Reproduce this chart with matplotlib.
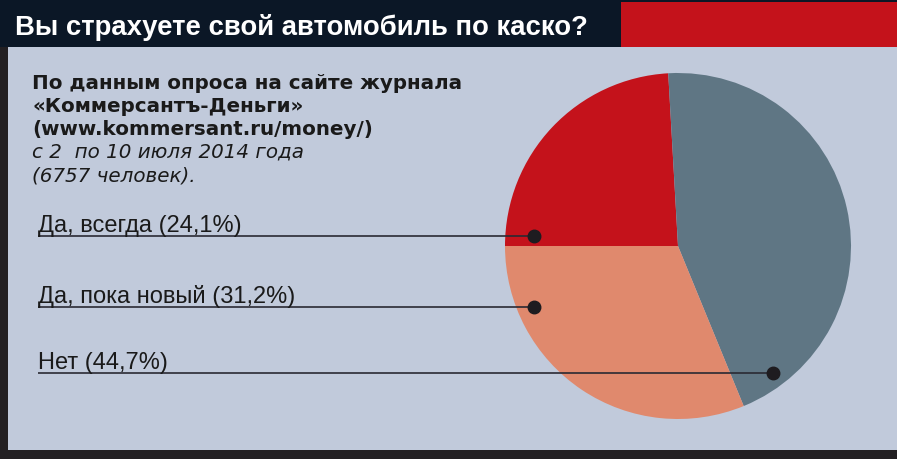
import matplotlib
matplotlib.use("Agg")
import matplotlib.pyplot as plt
from matplotlib.patches import Rectangle

# ---- data ----
title = "Вы страхуете свой автомобиль по каско?"
subtitle_bold = ["По данным опроса на сайте журнала",
                 "«Коммерсантъ-Деньги»",
                 "(www.kommersant.ru/money/)"]
subtitle_italic = ["с 2  по 10 июля 2014 года",
                   "(6757 человек)."]
categories = ["Да, всегда", "Да, пока новый", "Нет"]
shares = [24.1, 31.2, 44.7]
colors = ["#c4121b", "#e0896d", "#5f7684"]

BG = "#c1cadb"
NAVY = "#0b1726"
DARK = "#221f22"
W, H = 897, 459

fig = plt.figure(figsize=(W / 100, H / 100), dpi=100)
fig.patch.set_facecolor(BG)

# background axes in pixel coordinates
bg = fig.add_axes([0, 0, 1, 1], zorder=0)
bg.set_xlim(0, W); bg.set_ylim(H, 0); bg.axis("off")
bg.add_patch(Rectangle((0, 0), W, 47, color=NAVY, lw=0))
bg.add_patch(Rectangle((621, 2), W - 621, 45, color="#c4121b", lw=0))
bg.add_patch(Rectangle((0, 47), 8, H - 47, color=DARK, lw=0))
bg.add_patch(Rectangle((0, 450), W, 9, color=DARK, lw=0))

# pie axes: center (678, 246), radius 173 px
cx, cy, r = 678, 246, 173
pax = fig.add_axes([(cx - r) / W, (H - cy - r) / H, 2 * r / W, 2 * r / H], zorder=1)
order = [0, 2, 1]  # clockwise from the left: red, grey, salmon
pax.pie([shares[i] for i in order], colors=[colors[i] for i in order],
        startangle=180, counterclock=False,
        wedgeprops=dict(linewidth=0, antialiased=True))
pax.set_xlim(-1, 1); pax.set_ylim(-1, 1); pax.set_aspect("equal")
pax.axis("off")

# overlay axes for text, leader lines and dots
ov = fig.add_axes([0, 0, 1, 1], zorder=2)
ov.set_xlim(0, W); ov.set_ylim(H, 0); ov.axis("off")
ov.patch.set_alpha(0)

ov.text(15, 35, title, color="white", fontsize=19.8, fontweight="bold",
        family="Liberation Sans", va="baseline", ha="left")

y0 = 89
dy = 23
for i, line in enumerate(subtitle_bold):
    ov.text(32, y0 + i * dy, line, fontsize=14.3, fontweight="bold",
            color="#1a1a1a", family="DejaVu Sans", va="baseline")
for j, line in enumerate(subtitle_italic):
    ov.text(32, y0 + (len(subtitle_bold) + j) * dy, line, fontsize=14.3,
            fontstyle="italic", color="#1a1a1a", family="DejaVu Sans", va="baseline")

label_y = [236, 307, 373]
dot_x = [534, 534, 773]
for cat, s, ly, dx in zip(categories, shares, label_y, dot_x):
    lab = f"{cat} ({s:.1f}%)".replace(".", ",")
    ov.text(38, ly - 4, lab, fontsize=17, color="#1a1a1a",
            family="Liberation Sans", va="baseline")
    ov.plot([38, dx], [ly, ly], color="#2a2a33", lw=1.2, solid_capstyle="butt")
    ov.plot([dx], [ly], "o", color="#1e1c20", markersize=9)

fig.savefig("out.png", dpi=100, facecolor=BG)
